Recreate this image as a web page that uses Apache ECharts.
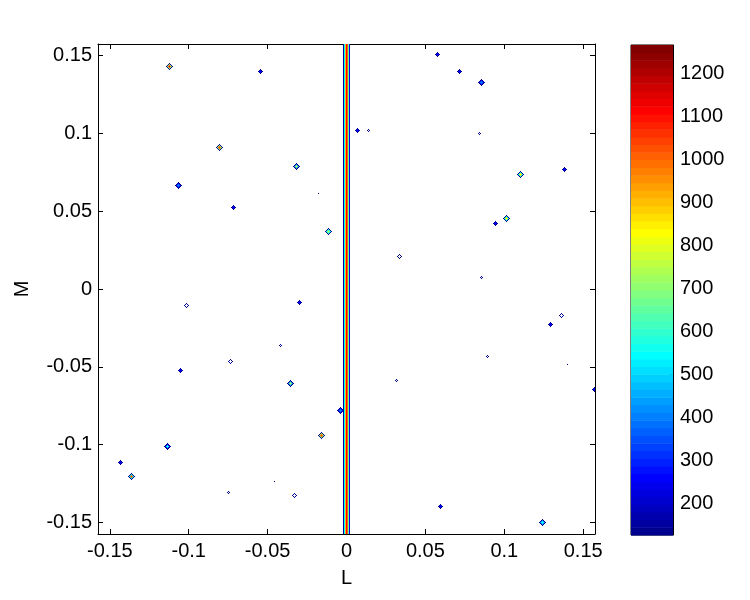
<!DOCTYPE html>
<html>
<head>
<meta charset="utf-8">
<script src="https://cdn.jsdelivr.net/npm/echarts@6/dist/echarts.min.js"></script>
<style>html,body{margin:0;padding:0;background:#fff}#c{width:750px;height:600px}</style>
</head>
<body>
<div id="c"></div>
<script>
// ---- data ----
const axisTicks = [-0.15, -0.1, -0.05, 0, 0.05, 0.1, 0.15];
const colorTicks = [200, 300, 400, 500, 600, 700, 800, 900, 1000, 1100, 1200];
const contourLevels = [130, 250, 400, 550, 700, 850, 1000, 1150];
// point sources: L, M, peak value
const srcL = [-0.112, -0.0542, -0.0804, -0.1067, -0.0314, -0.0715, -0.0177, -0.0111, -0.1015, -0.0299, -0.0418, -0.0734, -0.1053, -0.0352, -0.0156, -0.1137, -0.1432, -0.1365, -0.0751, -0.0456, -0.0331, -0.0035, 0.0070, 0.0142, 0.0576, 0.0718, 0.0854, 0.0840, 0.1101, 0.1382, 0.1013, 0.0943, 0.0334, 0.0854, 0.1363, 0.1291, 0.0892, 0.1399, 0.0316, 0.1570, 0.0595, 0.1241];
const srcM = [0.1430, 0.1398, 0.0911, 0.0664, 0.0788, 0.0525, 0.0611, 0.0367, -0.0103, -0.0088, -0.0366, -0.0469, -0.0523, -0.0610, -0.0941, -0.1011, -0.1114, -0.1204, -0.1307, -0.1240, -0.1327, -0.0780, 0.1016, 0.1016, 0.1505, 0.1397, 0.1327, 0.0997, 0.0735, 0.0769, 0.0454, 0.0418, 0.0210, 0.0071, -0.0173, -0.0225, -0.0437, -0.0488, -0.0591, -0.0647, -0.1395, -0.1502];
const srcPeak = [1200, 300, 1150, 480, 750, 320, 135, 850, 220, 320, 190, 240, 320, 780, 1100, 600, 300, 1050, 150, 135, 240, 450, 380, 150, 350, 290, 420, 150, 1000, 350, 900, 380, 240, 190, 200, 360, 190, 135, 190, 340, 360, 650];
// ridge near L = 0: positions and contour values
const ridgeL = [-0.0019, -0.00127, -0.00063, 0, 0.00063, 0.00127, 0.0019];
const ridgeLevel = [150, 550, 900, 1120, 1000, 650, 250];

// ---- helpers ----
const XR = 0.1575, YR = 0.1575;
const CMIN = 126, CMAX = 1267, NC = 64;
function jetRGB(i) { // MATLAB jet(64), i = 1..64
  const n = 16;
  const u = [];
  for (let k = 1; k <= n; k++) u.push(k / n);
  for (let k = 1; k < n; k++) u.push(1);
  for (let k = n; k >= 1; k--) u.push(k / n);
  const L = u.length;
  const g0 = Math.ceil(n / 2);
  let r = 0, g = 0, b = 0;
  const gi = i - g0; if (gi >= 1 && gi <= L) g = u[gi - 1];
  const ri = i - g0 - n; if (ri >= 1 && ri <= L) r = u[ri - 1];
  const bpos = []; for (let k = 1; k <= L; k++) { const p = g0 + k - n; if (p >= 1) bpos.push(p); }
  const idx = bpos.indexOf(i);
  if (idx >= 0) b = u[L - bpos.length + idx];
  return 'rgb(' + Math.round(r * 255) + ',' + Math.round(g * 255) + ',' + Math.round(b * 255) + ')';
}
function colorOf(v) {
  let i = Math.floor((v - CMIN) / (CMAX - CMIN) * NC) + 1;
  i = Math.max(1, Math.min(NC, i));
  return jetRGB(i);
}
const fmt = v => String(+(+v).toFixed(2));
const FONT = 'Liberation Sans, Arial, Helvetica, sans-serif';
const FS = 20;
const SIG = 1.65; // source width in pixels (gaussian sigma)

const srcData = srcL.map((l, k) => [l, srcM[k], srcPeak[k]]);
const ridgeData = ridgeL.map((l, k) => [l, 0, ridgeLevel[k]]);

function renderSource(params, api) {
  const pt = api.coord([api.value(0), api.value(1)]);
  const P = api.value(2);
  const cx = Math.floor(pt[0]), cy = Math.floor(pt[1]);
  const levs = contourLevels.filter(l => l < P);
  const children = [];
  if (!levs.length) return { type: 'group', children };
  const rad = lev => Math.round(SIG * Math.sqrt(2 * Math.log(P / lev)));
  const R0 = rad(levs[0]);
  const byR = {};
  byR[R0] = levs[0];
  for (let j = 1; j < levs.length; j++) {
    let R = rad(levs[j]);
    if (R >= R0) R = R0 - 1;
    if (R < 0) continue;
    byR[R] = levs[j];
  }
  const keys = Object.keys(byR).map(Number);
  if (byR[0] === undefined && keys.length >= 2 && byR[1] !== undefined) byR[0] = byR[1];
  Object.keys(byR).map(Number).sort((a, b) => b - a).forEach(R => {
    const fill = colorOf(byR[R]);
    const pts = [];
    if (R === 0) pts.push([0, 0]);
    else for (let dx = -R; dx <= R; dx++) {
      const dy = R - Math.abs(dx);
      pts.push([dx, dy]);
      if (dy !== 0) pts.push([dx, -dy]);
    }
    pts.forEach(p => children.push({ type: 'rect', shape: { x: cx + p[0], y: cy + p[1], width: 1, height: 1 }, style: { fill } }));
  });
  return { type: 'group', children };
}

function renderRidge(params, api) {
  const pt = api.coord([api.value(0), api.value(1)]);
  const cs = params.coordSys;
  return { type: 'rect', shape: { x: Math.floor(pt[0]), y: cs.y, width: 1, height: cs.height }, style: { fill: colorOf(api.value(2)) } };
}

const bands = [];
for (let i = 1; i <= NC; i++) bands.push(i);

const axisCommon = {
  axisLine: { show: true, onZero: false, lineStyle: { color: '#000', width: 1 } },
  splitLine: { show: false },
};
const labelStyle = { color: '#000', fontSize: FS, fontFamily: FONT };

const option = {
  animation: false,
  backgroundColor: '#fff',
  grid: [
    { left: 98, top: 44, width: 497, height: 490, show: false },
    { left: 631, top: 45, width: 42, height: 490, show: true, borderColor: '#000', borderWidth: 1, backgroundColor: 'transparent' }
  ],
  xAxis: [
    Object.assign({ gridIndex: 0, type: 'value', min: -XR, max: XR, position: 'bottom',
      axisTick: { show: true, inside: true, length: 5, customValues: axisTicks, lineStyle: { color: '#000' } },
      axisLabel: Object.assign({ show: true, customValues: axisTicks, formatter: fmt, margin: 7 }, labelStyle),
      name: 'L', nameLocation: 'middle', nameGap: 34, nameTextStyle: labelStyle }, axisCommon),
    Object.assign({ gridIndex: 0, type: 'value', min: -XR, max: XR, position: 'top',
      axisTick: { show: true, inside: true, length: 5, customValues: axisTicks, lineStyle: { color: '#000' } },
      axisLabel: { show: false } }, axisCommon),
    { gridIndex: 1, type: 'value', min: 0, max: 1, show: false }
  ],
  yAxis: [
    Object.assign({ gridIndex: 0, type: 'value', min: -YR, max: YR, position: 'left',
      axisTick: { show: true, inside: true, length: 5, customValues: axisTicks, lineStyle: { color: '#000' } },
      axisLabel: Object.assign({ show: true, customValues: axisTicks, formatter: fmt, margin: 6 }, labelStyle),
      name: 'M', nameLocation: 'middle', nameGap: 66, nameRotate: 90, nameTextStyle: labelStyle }, axisCommon),
    Object.assign({ gridIndex: 0, type: 'value', min: -YR, max: YR, position: 'right',
      axisTick: { show: true, inside: true, length: 5, customValues: axisTicks, lineStyle: { color: '#000' } },
      axisLabel: { show: false } }, axisCommon),
    Object.assign({ gridIndex: 1, type: 'value', min: CMIN, max: CMAX, position: 'right',
      axisTick: { show: true, inside: true, length: 4, customValues: colorTicks, lineStyle: { color: '#000' } },
      axisLabel: Object.assign({ show: true, customValues: colorTicks, formatter: v => String(Math.round(v)), margin: 7 }, labelStyle) }, axisCommon)
  ],
  series: [
    {
      type: 'custom', xAxisIndex: 2, yAxisIndex: 2, data: bands, silent: true, z: 1,
      renderItem: function (params, api) {
        const i = api.value(0);
        const lo = CMIN + (i - 1) * (CMAX - CMIN) / NC;
        const hi = CMIN + i * (CMAX - CMIN) / NC;
        const p0 = api.coord([0, hi]);
        const p1 = api.coord([1, lo]);
        return { type: 'rect', shape: { x: p0[0], y: p0[1], width: p1[0] - p0[0], height: p1[1] - p0[1] + 0.5 }, style: { fill: jetRGB(i) } };
      }
    },
    {
      type: 'custom', xAxisIndex: 0, yAxisIndex: 0, data: ridgeData, encode: { x: 0, y: 1 },
      renderItem: renderRidge, silent: true, z: 2
    },
    {
      type: 'custom', xAxisIndex: 0, yAxisIndex: 0, data: srcData, encode: { x: 0, y: 1 },
      renderItem: renderSource, silent: true, z: 3, clip: true
    }
  ]
};
const chart = echarts.init(document.getElementById('c'), null, { renderer: 'canvas' });
chart.setOption(option);
</script>
</body>
</html>
